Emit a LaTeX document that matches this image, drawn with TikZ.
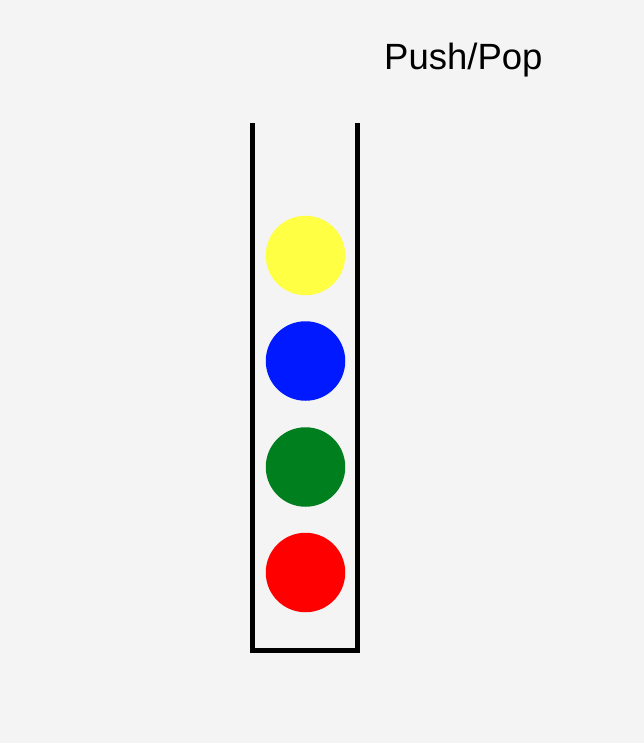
\documentclass[tikz,border=0pt]{standalone}
\usepackage{fontspec}
\setmainfont{Liberation Sans}
\definecolor{bg}{HTML}{F4F4F4}
\definecolor{ballyellow}{HTML}{FFFF44}
\definecolor{ballblue}{HTML}{0019FF}
\definecolor{ballgreen}{HTML}{007F1F}
\definecolor{ballred}{HTML}{FF0000}
\begin{document}
\begin{tikzpicture}[x=1pt,y=-1pt,
  ball/.style={circle,minimum size=79.5pt,inner sep=0pt,draw=none},
  tube/.style={line width=5pt,line join=miter}]
\fill[bg] (0,0) rectangle (644,743);
\useasboundingbox (0,0) rectangle (644,743);
\node[anchor=base west,inner sep=0pt,font=\fontsize{36.5}{40}\selectfont] (label) at (384,70) {Push/Pop};
\draw[tube] (252.5,123) -- (252.5,650.5) -- (357.5,650.5) -- (357.5,123);
\node[ball,fill=ballyellow] (b1) at (305.5,255.5) {};
\node[ball,fill=ballblue] (b2) at (305.5,361) {};
\node[ball,fill=ballgreen] (b3) at (305.5,467) {};
\node[ball,fill=ballred] (b4) at (305.5,572.5) {};
\end{tikzpicture}
\end{document}
